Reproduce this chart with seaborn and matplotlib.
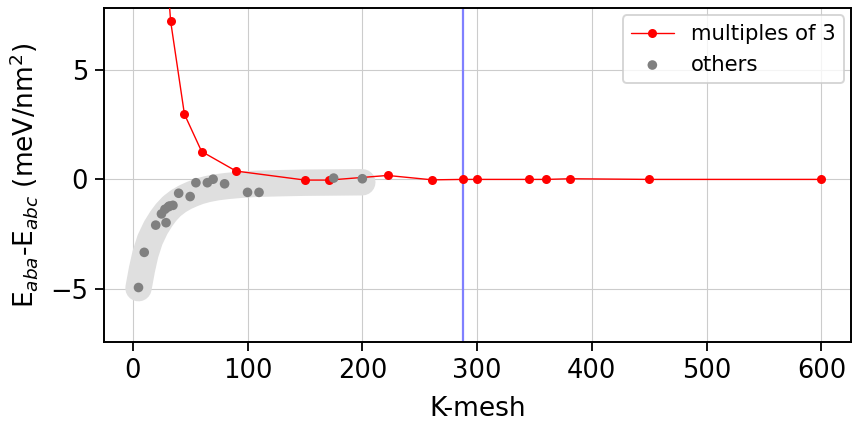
import numpy as np
import pandas as pd
import matplotlib
matplotlib.use("Agg")
import matplotlib.pyplot as plt
import seaborn as sns

# multiples of 3
k_mult3 = [30, 33, 45, 60, 90, 150, 171, 222, 261, 288, 300, 345, 360, 381, 450, 600]
e_mult3 = [9.3, 7.2, 2.97, 1.27, 0.38, -0.03, -0.03, 0.18, -0.02, 0.0, 0.0, 0.0, 0.0, 0.03, 0.0, 0.0]

# others
k_other = [5, 10, 20, 25, 28, 29, 31, 32, 35, 40, 50, 55, 65, 70, 80, 100, 110, 175, 200]
e_other = [-4.92, -3.32, -2.08, -1.57, -1.36, -1.97, -1.25, -1.21, -1.18, -0.63, -0.78,
           -0.15, -0.15, 0.01, -0.2, -0.59, -0.59, 0.06, 0.03]

# highlight band (guide path)
band_k = [5, 8, 11, 15, 20, 25, 29, 34, 40, 46, 52, 58, 65, 73, 82, 95, 108, 130, 150, 200]
band_e = [-4.95, -4.1, -3.4, -2.75, -2.2, -1.78, -1.5, -1.22, -0.98, -0.8, -0.66, -0.54,
          -0.44, -0.36, -0.3, -0.24, -0.2, -0.17, -0.15, -0.13]

vline_k = 288

sns.set_theme(style="ticks")
plt.rcParams['font.family'] = ['DejaVu Sans']
for key in ["text.color", "axes.labelcolor", "xtick.color", "ytick.color", "axes.edgecolor"]:
    plt.rcParams[key] = "black"

fig = plt.figure(figsize=(8.53, 4.23), dpi=100)
ax = fig.add_axes([0.122, 0.1915, 0.876, 0.7895])

df3 = pd.DataFrame({"k": k_mult3, "e": e_mult3})
dfo = pd.DataFrame({"k": k_other, "e": e_other})
dfb = pd.DataFrame({"k": band_k, "e": band_e})

ax.grid(True, color="#cccccc", lw=0.8, zorder=0)
ax.set_axisbelow(True)

ax.plot(dfb["k"], dfb["e"], color="#dfdfdf", lw=19, solid_capstyle="round",
        solid_joinstyle="round", zorder=1)

ax.axvline(vline_k, color="#8080ff", lw=1.6, zorder=2)

sns.lineplot(data=df3, x="k", y="e", color="red", lw=1.0, marker="o", markersize=6.5,
             markeredgewidth=0, ax=ax, label="multiples of 3", zorder=3, sort=False)
sns.scatterplot(data=dfo, x="k", y="e", color="gray", s=48, edgecolor="none", ax=ax,
                label="others", zorder=4)

ax.set_xlim(-25, 626)
ax.set_ylim(-7.4, 7.8)
ax.set_xticks([0, 100, 200, 300, 400, 500, 600])
ax.set_yticks([-5, 0, 5])
ax.tick_params(labelsize=18.5, length=6.5, width=1.3, direction="out", colors="black", pad=5)
for s in ax.spines.values():
    s.set_linewidth(1.4)
    s.set_color("black")

ax.set_xlabel("K-mesh", fontsize=19, color="black", labelpad=9)
ax.set_ylabel(r"E$_{aba}$-E$_{abc}$ (meV/nm$^2$)", fontsize=19, color="black", labelpad=7)

leg = ax.legend(loc="upper right", fontsize=15.3, frameon=True, borderaxespad=0.35)
leg.get_frame().set_edgecolor("#cccccc")
leg.get_frame().set_linewidth(1.4)
for t in leg.get_texts():
    t.set_color("black")

fig.savefig("out.png", dpi=100)
